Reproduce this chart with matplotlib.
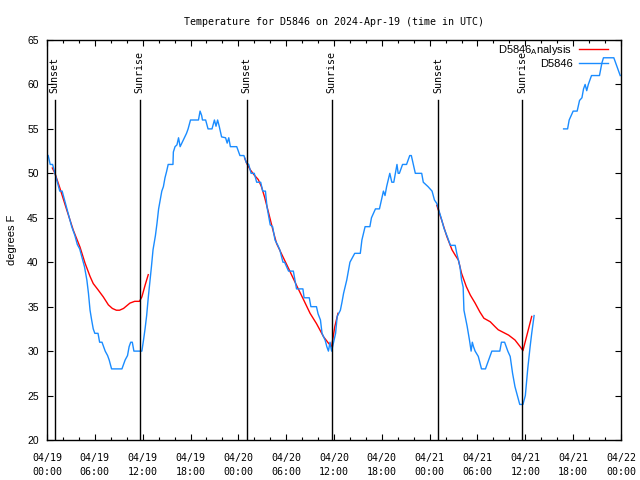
import matplotlib
matplotlib.use('Agg')
import matplotlib.pyplot as plt
import numpy as np

# hours since 2024-04-19 00:00 UTC
obs_hours = [0.15, 0.4, 0.7, 1.0, 1.3, 1.6, 1.9, 2.2, 2.5, 2.8, 3.1, 3.3, 3.5, 3.8, 4.1, 4.4, 4.7,
             5.0, 5.2, 5.4, 5.6, 5.8, 6.0, 6.4, 6.6, 6.9, 7.1, 7.3, 7.6, 7.8, 8.1, 9.4, 9.6, 9.8,
             10.1, 10.3, 10.5, 10.7, 10.9, 11.9, 12.1, 12.3, 12.5, 12.7, 12.9, 13.1, 13.3, 13.6,
             13.8, 14.0, 14.2, 14.4, 14.6, 14.8, 15.0, 15.2, 15.8, 15.85, 16.06, 16.3, 16.5, 16.7,
             17.1, 17.5, 17.7, 18.0, 19.0, 19.2, 19.4, 19.5, 19.9, 20.2, 20.7, 21.0, 21.2, 21.4,
             21.6, 21.9, 22.4, 22.6, 22.8, 23.0, 23.8, 24.2, 24.7, 25.0, 25.3, 25.6, 26.0, 26.3,
             26.8, 27.06, 27.4, 27.6, 28.0, 28.3, 28.6, 28.9, 29.2, 29.6, 29.8, 30.3, 30.9, 31.3,
             32.1, 32.25, 32.9, 33.1, 33.8, 34.0, 34.3, 34.5, 34.9, 35.1, 35.3, 35.5, 35.7, 36.0,
             36.2, 36.4, 36.8, 37.0, 37.2, 37.6, 38.0, 38.6, 39.3, 39.5, 39.9, 40.5, 40.7, 41.2,
             41.7, 42.0, 42.2, 42.4, 42.6, 43.0, 43.25, 43.5, 43.9, 44.05, 44.2, 44.6, 45.1, 45.5,
             45.7, 46.2, 47.0, 47.2, 47.8, 48.3, 48.6, 48.9, 49.1, 49.5, 49.8, 50.2, 50.6, 51.2,
             51.4, 51.8, 52.0, 52.2, 52.3, 52.7, 53.0, 53.2, 53.35, 53.5, 53.7, 54.1, 54.5, 55.0,
             55.4, 55.8, 56.8, 57.0, 57.4, 57.8, 58.1, 58.4, 58.7, 59.0, 59.3, 59.7, 60.0, 60.3,
             60.6, 60.8, 61.1, 63.0,
             64.8, 65.3, 65.5, 65.8, 66.0, 66.5, 66.8, 67.1, 67.3, 67.5, 67.7, 67.9, 68.3, 69.3,
             69.6, 69.8, 71.1, 71.5, 71.9]
obs_temps = [52, 51, 51, 50, 49, 48, 48, 47, 46, 45, 44, 43.5, 43, 42, 41.5, 40.5, 39.5,
             38, 36.5, 34.6, 33.5, 32.5, 32, 32, 31, 31, 30.5, 30, 29.5, 29, 28, 28, 28.5, 29,
             29.5, 30.5, 31, 31, 30, 30, 31.2, 32.5, 34, 36, 37.7, 39.5, 41.4, 43,
             44.4, 46, 47, 48, 48.5, 49.5, 50.2, 51, 51, 52.4, 53, 53.2, 54, 53,
             53.75, 54.5, 55, 56, 56, 57, 56.5, 56, 56, 55, 55, 56, 55.3, 56,
             55.3, 54.1, 54, 53.4, 54, 53, 53, 52, 52, 51.2, 51, 50, 50, 49,
             49, 48, 48, 46.2, 44.2, 44, 42.5, 42, 41.4, 40, 40, 39, 39, 37,
             37, 36, 36, 35, 35, 34.2, 33.5, 32, 31.2, 30.5, 30, 31, 30, 31.2,
             32, 33.9, 34.6, 35.5, 36.5, 38, 40, 41, 41, 42.5, 44, 44, 45, 46,
             46, 47.2, 48, 47.5, 48.5, 50, 49, 49, 51, 50, 50, 51, 51, 52,
             52, 50, 50, 49, 48.5, 48, 47, 46.6, 46, 44.8, 43.8, 42.9, 41.9, 41.9,
             41, 39.5, 38, 37.2, 34.6, 32.8, 31.2, 30, 31, 30.5, 30, 29.4, 28, 28,
             29, 30, 30, 31, 31, 30, 29.4, 27.5, 26, 25, 24, 24, 25, 28,
             30.5, 32, 34, np.nan,
             55, 55, 56, 56.6, 57, 57, 58.2, 58.5, 59.5, 60, 59.3, 60, 61, 61,
             62.4, 63, 63, 62, 61]

ana_hours = [0.67, 1.0, 1.63, 2.47, 3.3, 4.14, 4.77, 5.4, 5.8, 6.4, 7.06, 7.7, 8.2, 8.7, 9.1,
             9.6, 10.0, 10.4, 11.0, 11.6, 11.9, 12.3, 12.7, 18.0,
             24.8, 25.06, 25.5, 26.0, 26.5, 26.9, 27.3, 27.6, 27.98, 28.4, 28.8, 29.6, 30.3,
             31.3, 32.2, 33.0, 33.8, 34.7, 35.3, 35.7, 36.1, 36.5, 42.0,
             48.9, 49.5, 50.15, 50.8, 51.2, 51.6, 52.0, 52.6, 53.1, 53.7, 54.3, 54.8, 55.6,
             56.2, 56.6, 57.25, 57.9, 58.7, 59.35, 59.7, 60.2, 60.8]
ana_temps = [50.6, 50, 48.3, 45.9, 43.6, 41.7, 39.9, 38.4, 37.6, 36.9, 36.1, 35.2, 34.8, 34.6, 34.6,
             34.8, 35.1, 35.4, 35.6, 35.6, 36.1, 37.4, 38.6, np.nan,
             51.7, 51.1, 50.4, 49.8, 49.3, 48.5, 47.3, 46.25, 44.9, 43.4, 42.1, 40.6, 39.3,
             37.4, 35.75, 34.25, 33.1, 31.6, 30.9, 30.5, 32.75, 34.25, np.nan,
             46.4, 44.75, 42.9, 41.4, 40.8, 40.25, 38.75, 37.25, 36.3, 35.4, 34.4, 33.7, 33.3,
             32.75, 32.4, 32.1, 31.8, 31.25, 30.5, 30.05, 31.8, 33.9]

sun_hours = [0.95, 11.61, 25.03, 35.69, 49.1, 59.63]
sun_labels = ['Sunset', 'Sunrise', 'Sunset', 'Sunrise', 'Sunset', 'Sunrise']

tick_hours = list(range(0, 73, 6))
tick_labels = ['04/19\n00:00', '04/19\n06:00', '04/19\n12:00', '04/19\n18:00',
               '04/20\n00:00', '04/20\n06:00', '04/20\n12:00', '04/20\n18:00',
               '04/21\n00:00', '04/21\n06:00', '04/21\n12:00', '04/21\n18:00',
               '04/22\n00:00']

plt.rcParams['mathtext.fontset'] = 'custom'
plt.rcParams['mathtext.rm'] = 'Liberation Sans'

fig = plt.figure(figsize=(6.4, 4.8), dpi=100)
ax = fig.add_axes([47 / 640, 40 / 480, 574 / 640, 400 / 480])

ax.plot(ana_hours, ana_temps, color='#ff0000', lw=1.0, label='D5846$_{\\mathrm{A}}$nalysis')
ax.plot(obs_hours, obs_temps, color='#1a8cff', lw=1.0, label='D5846')

for h, lab in zip(sun_hours, sun_labels):
    ax.plot([h, h], [20, 58.3], color='black', lw=1.0)
    ax.text(h, 59.0, lab, rotation=90, ha='center', va='bottom',
            family='DejaVu Sans Mono', fontsize=7.2)

ax.set_xlim(0, 72)
ax.set_ylim(20, 65)
ax.set_xticks(tick_hours)
ax.set_xticklabels(tick_labels, family='DejaVu Sans Mono', fontsize=7.2, linespacing=1.6)
ax.set_xticks(range(0, 73, 2), minor=True)
ax.set_yticks(range(20, 66, 5))
ax.set_yticklabels([str(v) for v in range(20, 66, 5)], family='Liberation Sans', fontsize=7.5)
ax.tick_params(which='both', direction='in', top=True, right=True, width=0.8)
ax.tick_params(axis='x', which='major', length=4.5, pad=9)
ax.tick_params(axis='y', which='major', length=4.5, pad=6)
ax.tick_params(which='minor', length=2.5)
for sp in ax.spines.values():
    sp.set_linewidth(1.0)

ax.set_ylabel('degrees F', family='Liberation Sans', fontsize=8)
ax.yaxis.set_label_coords(-0.052, 0.5)
ax.set_title('Temperature for D5846 on 2024-Apr-19 (time in UTC)',
             family='DejaVu Sans Mono', fontsize=7.2, pad=11)

leg = ax.legend(loc='upper right', bbox_to_anchor=(0.985, 1.003), frameon=False, markerfirst=False,
                prop={'family': 'Liberation Sans', 'size': 8},
                handlelength=2.6, handletextpad=0.6, borderaxespad=0.0, labelspacing=0.15)

fig.savefig('out.png', dpi=100)
